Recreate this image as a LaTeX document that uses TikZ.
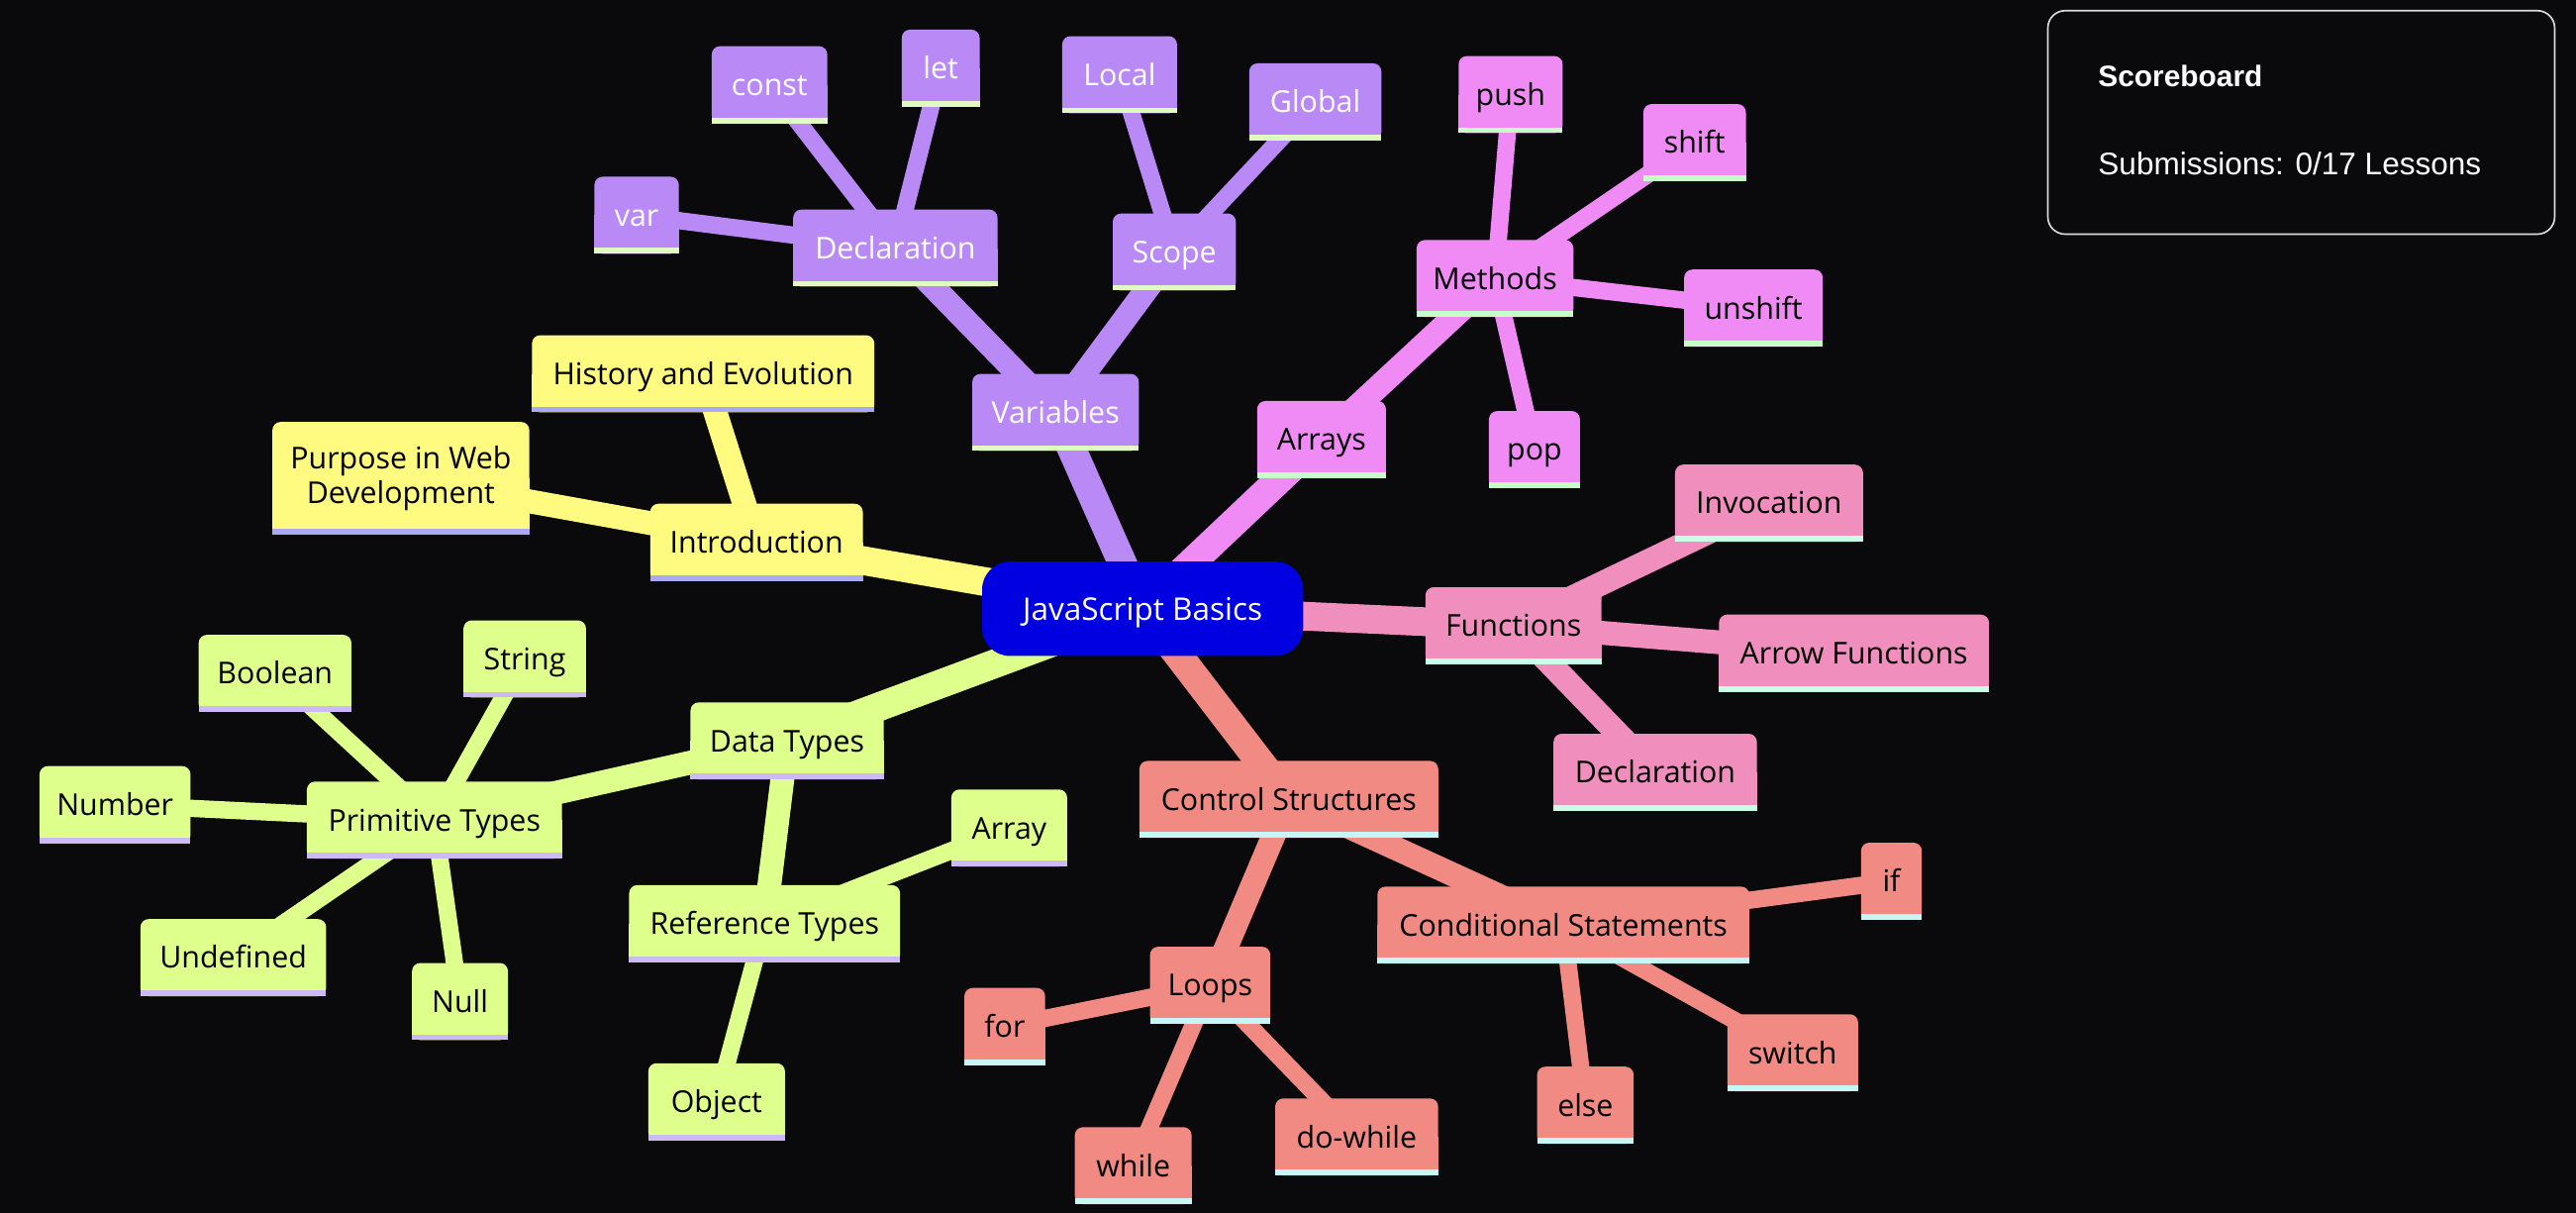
\documentclass[tikz,border=0pt]{standalone}
\usepackage{fontspec}
\setmainfont{Open Sans}
\newfontfamily\sbfont{Liberation Sans}
\definecolor{bgc}{HTML}{0A0A0C}
\definecolor{rootc}{HTML}{0000E0}
\definecolor{yelc}{HTML}{FFFA80}\definecolor{yels}{HTML}{AAAAF2}
\definecolor{grnc}{HTML}{DFFF8C}\definecolor{grns}{HTML}{CDB9F5}
\definecolor{purc}{HTML}{B98AF5}\definecolor{purs}{HTML}{E1FAC3}
\definecolor{magc}{HTML}{F08AF5}\definecolor{mags}{HTML}{C8FFC8}
\definecolor{pnkc}{HTML}{F08FBE}\definecolor{pnks}{HTML}{C8FFE6}
\definecolor{salc}{HTML}{F08A82}\definecolor{sals}{HTML}{C8F5F5}
\definecolor{sbline}{HTML}{DADADA}
\pgfdeclarelayer{bg}\pgfdeclarelayer{edges}\pgfdeclarelayer{boxes}
\pgfsetlayers{bg,edges,boxes,main}
\newcommand\mmbox[3]{%
  \fill[#2,rounded corners=5pt] (#1.south west) rectangle (#1.north east);
  \fill[#2] (#1.south west) rectangle (#1.east);
  \fill[#3] (#1.south west) rectangle ([yshift=3.5pt]#1.south east);}
\begin{document}
\begin{tikzpicture}[x=1pt,y=-1pt,
  mm/.style={inner sep=0pt, minimum height=46.5pt,
    font=\fontsize{18.3}{21}\selectfont, text height=13.1pt, text depth=0pt, text=black},
  wt/.style={text=white},
  e1/.style={line width=17.5pt},
  e2/.style={line width=14.5pt},
  e3/.style={line width=10.5pt}]
\useasboundingbox (0,0) rectangle (1568,738);
\begin{pgfonlayer}{bg}
\fill[bgc] (0,0) rectangle (1568,738);
\end{pgfonlayer}

% root
\node[mm, wt, minimum width=195pt, minimum height=57pt, font=\fontsize{19}{22}\selectfont, text height=13.6pt] (root) at (695.5,370.5) {JavaScript Basics};
% introduction
\node[mm, minimum width=129pt] (intro) at (460.5,330) {Introduction};
\node[mm, minimum width=208pt] (history) at (428,227.5) {History and Evolution};
\node[mm, minimum width=156pt, minimum height=68pt, text height=, text depth=, align=center] (purpose) at (244,291) {Purpose in Web\\Development};
% variables
\node[mm, wt, minimum width=101pt] (variables) at (642.5,251) {Variables};
\node[mm, wt, minimum width=124pt] (vdecl) at (545,151) {Declaration};
\node[mm, wt, minimum width=74.5pt] (scope) at (714.8,153.4) {Scope};
\node[mm, wt, minimum width=51pt] (var) at (387.5,131) {var};
\node[mm, wt, minimum width=70pt] (const) at (468.4,51.6) {const};
\node[mm, wt, minimum width=47pt] (let) at (572.6,41.5) {let};
\node[mm, wt, minimum width=69.5pt] (local) at (681.5,45.5) {Local};
\node[mm, wt, minimum width=80pt] (global) at (800.6,62) {Global};
% arrays
\node[mm, minimum width=78pt] (arrays) at (804.4,267.5) {Arrays};
\node[mm, minimum width=95pt] (methods) at (910,169.5) {Methods};
\node[mm, minimum width=63pt] (push) at (919.5,57.6) {push};
\node[mm, minimum width=62pt] (shift) at (1031.5,86.8) {shift};
\node[mm, minimum width=84pt] (unshift) at (1067.3,187.5) {unshift};
\node[mm, minimum width=55pt] (pop) at (934,273.6) {pop};
% functions
\node[mm, minimum width=106.7pt] (functions) at (921.2,380.8) {Functions};
\node[mm, minimum width=114pt] (invocation) at (1076.8,306.2) {Invocation};
\node[mm, minimum width=164pt] (arrowf) at (1128.5,397.5) {Arrow Functions};
\node[mm, minimum width=123.4pt] (fdecl) at (1007.5,470) {Declaration};
% control structures
\node[mm, minimum width=181.5pt] (control) at (784.5,486.5) {Control Structures};
\node[mm, minimum width=226pt] (cond) at (951.6,563) {Conditional Statements};
\node[mm, minimum width=72.8pt] (loops) at (736.6,599.6) {Loops};
\node[mm, minimum width=48.8pt] (lfor) at (611.6,624.7) {for};
\node[mm, minimum width=70.7pt] (lwhile) at (689.8,709.4) {while};
\node[mm, minimum width=98.8pt] (ldowhile) at (825.8,691.9) {do-while};
\node[mm, minimum width=36.6pt] (cif) at (1151.3,536.3) {if};
\node[mm, minimum width=58.4pt] (celse) at (965,672.6) {else};
\node[mm, minimum width=79.2pt] (cswitch) at (1091.2,640.7) {switch};
% data types
\node[mm, minimum width=117.2pt] (datatypes) at (479.1,450.9) {Data Types};
\node[mm, minimum width=164.5pt] (reftypes) at (465.4,562.1) {Reference Types};
\node[mm, minimum width=70.1pt] (tarray) at (614.3,503.9) {Array};
\node[mm, minimum width=82.8pt] (tobject) at (436.2,670.5) {Object};
\node[mm, minimum width=154.8pt] (primitive) at (264.4,499.1) {Primitive Types};
\node[mm, minimum width=92.6pt] (tboolean) at (167.4,409.8) {Boolean};
\node[mm, minimum width=74.2pt] (tstring) at (319.4,401) {String};
\node[mm, minimum width=91.5pt] (tnumber) at (70,489.7) {Number};
\node[mm, minimum width=112.7pt] (tundef) at (142,582.8) {Undefined};
\node[mm, minimum width=58pt] (tnull) at (280,609.5) {Null};

% scoreboard
\node[draw=sbline, line width=1pt, rounded corners=10.5pt, fill=bgc, minimum width=308.5pt, minimum height=136pt, inner sep=0pt] (board) at (1400.75,74.5) {};
\node[anchor=base west, inner sep=0pt, text=white, font=\sbfont\bfseries\fontsize{18}{22}\selectfont] (sbtitle) at (1277,53) {Scoreboard};
\node[anchor=base west, inner sep=0pt, text=white, font=\sbfont\fontsize{19}{23}\selectfont] (sbtext) at (1277,106.5) {Submissions: 0/17 Lessons};

% boxes
\begin{pgfonlayer}{boxes}
\fill[rootc, rounded corners=17pt] (root.south west) rectangle (root.north east);
\foreach \n in {intro,history,purpose}{\mmbox{\n}{yelc}{yels}}
\foreach \n in {variables,vdecl,scope,var,const,let,local,global}{\mmbox{\n}{purc}{purs}}
\foreach \n in {arrays,methods,push,shift,unshift,pop}{\mmbox{\n}{magc}{mags}}
\foreach \n in {functions,invocation,arrowf,fdecl}{\mmbox{\n}{pnkc}{pnks}}
\foreach \n in {control,cond,loops,lfor,lwhile,ldowhile,cif,celse,cswitch}{\mmbox{\n}{salc}{sals}}
\foreach \n in {datatypes,reftypes,tarray,tobject,primitive,tboolean,tstring,tnumber,tundef,tnull}{\mmbox{\n}{grnc}{grns}}
\end{pgfonlayer}

% edges
\begin{pgfonlayer}{edges}
\draw[e1,yelc] (root.center) -- (intro.center);
\draw[e1,purc] (root.center) -- (variables.center);
\draw[e1,magc] (root.center) -- (arrays.center);
\draw[e1,pnkc] (root.center) -- (functions.center);
\draw[e1,salc] (root.center) -- (control.center);
\draw[e1,grnc] (root.center) -- (datatypes.center);
\draw[e2,yelc] (intro.center) -- (history.center);
\draw[e2,yelc] (intro.center) -- (purpose.center);
\draw[e2,purc] (variables.center) -- (vdecl.center);
\draw[e2,purc] (variables.center) -- (scope.center);
\draw[e3,purc] (vdecl.center) -- (var.center);
\draw[e3,purc] (vdecl.center) -- (const.center);
\draw[e3,purc] (vdecl.center) -- (let.center);
\draw[e3,purc] (scope.center) -- (local.center);
\draw[e3,purc] (scope.center) -- (global.center);
\draw[e2,magc] (arrays.center) -- (methods.center);
\draw[e3,magc] (methods.center) -- (push.center);
\draw[e3,magc] (methods.center) -- (shift.center);
\draw[e3,magc] (methods.center) -- (unshift.center);
\draw[e3,magc] (methods.center) -- (pop.center);
\draw[e2,pnkc] (functions.center) -- (invocation.center);
\draw[e2,pnkc] (functions.center) -- (arrowf.center);
\draw[e2,pnkc] (functions.center) -- (fdecl.center);
\draw[e2,salc] (control.center) -- (cond.center);
\draw[e2,salc] (control.center) -- (loops.center);
\draw[e3,salc] (loops.center) -- (lfor.center);
\draw[e3,salc] (loops.center) -- (lwhile.center);
\draw[e3,salc] (loops.center) -- (ldowhile.center);
\draw[e3,salc] (cond.center) -- (cif.center);
\draw[e3,salc] (cond.center) -- (celse.center);
\draw[e3,salc] (cond.center) -- (cswitch.center);
\draw[e2,grnc] (datatypes.center) -- (primitive.center);
\draw[e2,grnc] (datatypes.center) -- (reftypes.center);
\draw[e3,grnc] (reftypes.center) -- (tarray.center);
\draw[e3,grnc] (reftypes.center) -- (tobject.center);
\draw[e3,grnc] (primitive.center) -- (tboolean.center);
\draw[e3,grnc] (primitive.center) -- (tstring.center);
\draw[e3,grnc] (primitive.center) -- (tnumber.center);
\draw[e3,grnc] (primitive.center) -- (tundef.center);
\draw[e3,grnc] (primitive.center) -- (tnull.center);
\end{pgfonlayer}
\end{tikzpicture}
\end{document}
